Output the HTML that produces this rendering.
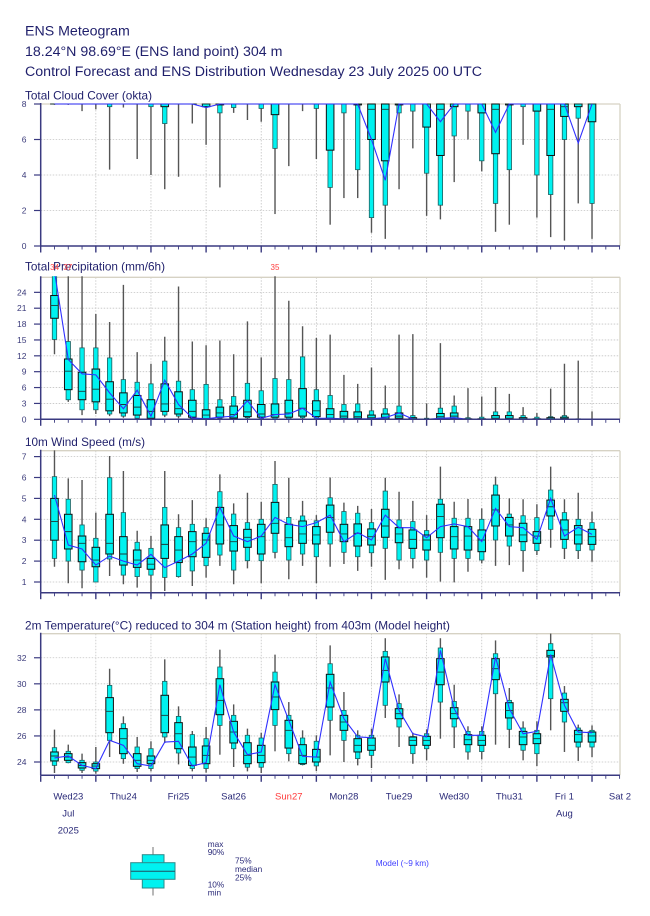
<!DOCTYPE html>
<html>
<head>
<meta charset="utf-8">
<style>
  html,body{margin:0;padding:0;background:#fff;}
  svg{display:block;}
  text{font-family:"Liberation Sans",Arial,sans-serif;}
  .hdr{fill:#1f1f6b;font-size:14.2px;}
  .ptl{fill:#1f1f6b;font-size:11.7px;}
  .yl{fill:#3a3a7a;font-size:8.5px;text-anchor:end;}
  .xl{fill:#2a2a78;font-size:9.5px;text-anchor:middle;}
  .lg{fill:#2a2a78;font-size:8.3px;}
  .red{fill:#ff4040;font-size:8px;text-anchor:middle;}
</style>
</head>
<body>
<svg id="s" width="650" height="916" viewBox="0 0 650 916" xmlns="http://www.w3.org/2000/svg">
  <rect x="0" y="0" width="650" height="916" fill="#fff"/>
  <!-- Header -->
  <text class="hdr" x="25" y="35.7">ENS Meteogram</text>
  <text class="hdr" x="25" y="56">18.24°N 98.69°E (ENS land point) 304 m</text>
  <text class="hdr" x="25" y="76" textLength="457" lengthAdjust="spacingAndGlyphs">Control Forecast and ENS Distribution Wednesday 23 July 2025 00 UTC</text>

  <!-- Panel titles -->
  <text class="ptl" x="25" y="99.5" textLength="127" lengthAdjust="spacingAndGlyphs">Total Cloud Cover (okta)</text>
  <text class="ptl" x="25" y="270.7" textLength="140" lengthAdjust="spacingAndGlyphs">Total Precipitation (mm/6h)</text>
  <text class="ptl" x="25" y="446" textLength="120" lengthAdjust="spacingAndGlyphs">10m Wind Speed (m/s)</text>
  <text class="ptl" x="25" y="629.3" textLength="425" lengthAdjust="spacingAndGlyphs">2m Temperature(°C) reduced to 304 m (Station height) from 403m (Model height)</text>

  <!-- red outlier labels -->
  <text class="red" x="54.6" y="270">34</text>
  <text class="red" x="67.8" y="270">37</text>
  <text class="red" x="275" y="270">35</text>

  <g id="grid"></g>
  <g id="plots"></g>
  <g id="axes"></g>

  <!-- Y tick labels: cloud -->
  <text class="yl" x="26.5" y="249">0</text>
  <text class="yl" x="26.5" y="213.5">2</text>
  <text class="yl" x="26.5" y="178">4</text>
  <text class="yl" x="26.5" y="142.5">6</text>
  <text class="yl" x="26.5" y="107">8</text>
  <!-- precip -->
  <text class="yl" x="26.5" y="422.3">0</text>
  <text class="yl" x="26.5" y="406.4">3</text>
  <text class="yl" x="26.5" y="390.5">6</text>
  <text class="yl" x="26.5" y="374.7">9</text>
  <text class="yl" x="26.5" y="358.8">12</text>
  <text class="yl" x="26.5" y="342.9">15</text>
  <text class="yl" x="26.5" y="327.1">18</text>
  <text class="yl" x="26.5" y="311.2">21</text>
  <text class="yl" x="26.5" y="295.3">24</text>
  <!-- wind -->
  <text class="yl" x="26.5" y="585">1</text>
  <text class="yl" x="26.5" y="564.1">2</text>
  <text class="yl" x="26.5" y="543.2">3</text>
  <text class="yl" x="26.5" y="522.3">4</text>
  <text class="yl" x="26.5" y="501.4">5</text>
  <text class="yl" x="26.5" y="480.5">6</text>
  <text class="yl" x="26.5" y="459.6">7</text>
  <!-- temp -->
  <text class="yl" x="26.5" y="765">24</text>
  <text class="yl" x="26.5" y="738.9">26</text>
  <text class="yl" x="26.5" y="712.9">28</text>
  <text class="yl" x="26.5" y="686.8">30</text>
  <text class="yl" x="26.5" y="660.8">32</text>

  <!-- X labels -->
  <text class="xl" x="68.3" y="799.5">Wed23</text>
  <text class="xl" x="123.4" y="799.5">Thu24</text>
  <text class="xl" x="178.5" y="799.5">Fri25</text>
  <text class="xl" x="233.6" y="799.5">Sat26</text>
  <text class="xl" x="288.8" y="799.5" style="fill:#ff3a3a">Sun27</text>
  <text class="xl" x="343.9" y="799.5">Mon28</text>
  <text class="xl" x="399.0" y="799.5">Tue29</text>
  <text class="xl" x="454.2" y="799.5">Wed30</text>
  <text class="xl" x="509.3" y="799.5">Thu31</text>
  <text class="xl" x="564.4" y="799.5">Fri 1</text>
  <text class="xl" x="620" y="799.5">Sat 2</text>
  <text class="xl" x="68.3" y="816.5">Jul</text>
  <text class="xl" x="68.3" y="833.5">2025</text>
  <text class="xl" x="564.4" y="816.5">Aug</text>

  <!-- Legend -->
  <line x1="153" y1="847" x2="153" y2="895.5" stroke="#888" stroke-width="1.2"/>
  <rect x="142.3" y="854.7" width="21.7" height="33.3" fill="#00f2f0" stroke="#2a8a8a" stroke-width="1"/>
  <rect x="130.7" y="862.7" width="44.3" height="16.6" fill="#00f2f0" stroke="#2a8a8a" stroke-width="1"/>
  <line x1="130.7" y1="871.3" x2="175" y2="871.3" stroke="#1f4f5f" stroke-width="1"/>
  <text class="lg" x="207.7" y="847">max</text>
  <text class="lg" x="207.7" y="855">90%</text>
  <text class="lg" x="235" y="863.7">75%</text>
  <text class="lg" x="235" y="872">median</text>
  <text class="lg" x="235" y="880.3">25%</text>
  <text class="lg" x="207.7" y="887.7">10%</text>
  <text class="lg" x="207.7" y="895.7">min</text>
  <text class="lg" x="375.7" y="866" style="fill:#4040ff">Model (~9 km)</text>
</svg>

<script>
(function(){
var NS="http://www.w3.org/2000/svg";
var X0=40.7, DX=13.783, XR=620;
function px(i){return X0+DX*i;}
function el(tag,attrs,parent){var e=document.createElementNS(NS,tag);for(var k in attrs)e.setAttribute(k,attrs[k]);parent.appendChild(e);return e;}
var svg=document.getElementById('s');
var grid=document.getElementById('grid'), plots=document.getElementById('plots'), axes=document.getElementById('axes');
var defs=el('defs',{},svg);

var cc=[[7.95,8,8,8,8],[7.95,8,8,8,8],[7.6,8,8,8,8],[7.7,8,8,8,8],[4.3,7.85,8,8,8],[7.8,8,8,8,8],[4.9,8,8,8,8],[4.0,7.85,8,8,8],
[3.2,6.9,7.85,8,8],[3.9,8,8,8,8],[6.9,8,8,8,8],[5.7,7.85,7.85,8,7.8],[3.3,7.5,7.95,8,8],[7.5,7.8,8,8,8],[7.1,8,8,8,8],[7.0,7.75,8,8,8],
[1.8,5.5,7.4,8,8],[4.5,8,8,8,8],[7.6,8,8,8,8],[4.9,7.75,8,8,8],[1.2,3.3,5.4,8,8],[2.7,7.5,8,8,8],[2.7,4.3,7.95,8,8],[0.75,1.6,6.0,7.7,6.0],
[0.4,2.3,4.8,7.7,3.7],[3.2,7.5,7.95,8,8],[5.5,7.6,8,8,8],[1.7,4.1,6.7,8,8],[1.5,2.3,5.1,7.7,7.0],[3.6,6.2,7.85,8,8],[6.0,7.6,8,8,8],[4.2,4.8,7.5,8,8],
[0.8,2.4,5.2,7.7,6.4],[1.2,4.3,7.95,8,8],[5.7,7.85,8,8,8],[1.6,4.0,7.6,8,8],[0.5,2.9,5.1,7.7,8],[0.3,6.0,7.3,7.85,8],[2.4,7.2,7.85,8,5.8],[0.4,2.4,7.0,8,8]];
var cloud=cc.map(function(a){return [a[0],a[1],a[2],a[3],8,8,8,a[4]];});

var precip=[[12.3,15.1,19.1,21.5,23.4,28,37,28],[3.3,3.7,5.6,9.1,11.4,14.7,37,11.3],[0.8,1.8,3.7,5.3,8.9,13.5,30,8.6],[1.0,1.8,3.3,5.7,9.5,13.5,19.9,8.4],
[0.6,1.0,1.6,3.8,7.1,11.6,18.4,5.0],[0.3,0.6,1.2,2.8,5.0,7.5,25.4,2.0],[0.1,0.2,0.8,2.3,4.5,7.0,12.7,5.5],[0,0.1,0.2,1.5,3.7,6.7,10.5,0.6],
[0.4,0.8,1.5,2.9,6.7,11.0,15.6,7.4],[0.2,0.6,1.0,2.0,5.2,7.2,25.1,2.8],[0.1,0.2,0.4,1.5,3.6,5.6,14.7,0.25],[0,0.05,0.1,0.8,1.8,6.6,14.0,0.1],
[0,0.2,0.4,1.2,2.3,3.7,14.9,0.4],[0,0.1,0.25,0.9,2.5,4.3,12.3,0.6],[0.1,0.3,0.5,1.4,3.6,6.8,18.5,3.5],[0,0.1,0.4,1.0,2.8,5.4,11.7,0.2],
[0,0.1,0.4,0.9,2.9,7.7,35,0.9],[0,0.1,0.4,1.2,3.6,7.5,22.4,1.0],[0.1,0.3,0.6,2.1,5.8,11.8,17.6,2.1],[0,0.1,0.5,1.6,3.5,5.6,15.4,0.2],
[0,0.05,0.2,0.9,2.0,4.5,16.0,0.2],[0,0.05,0.2,0.6,1.5,2.8,8.4,0.1],[0,0.05,0.2,0.5,1.4,2.9,6.7,0.1],[0,0,0.1,0.3,0.8,1.6,9.8,0.1],
[0,0,0.1,0.4,1.0,2.0,6.4,0.3],[0,0.05,0.2,0.6,1.2,2.5,16.0,1.2],[0,0,0,0.1,0.3,0.7,16.1,0.05],[0,0,0,0,0.05,0.2,3.0,0],
[0,0.05,0.2,0.5,1.1,2.1,14.4,0.2],[0,0.05,0.2,0.6,1.2,2.5,4.5,0.3],[0,0,0,0.05,0.1,0.3,5.9,0],[0,0,0,0.05,0.1,0.4,4.3,0],
[0,0,0.05,0.2,0.7,1.4,6.1,0.05],[0,0,0.05,0.2,0.7,1.4,4.8,0.05],[0,0,0.02,0.1,0.3,0.7,2.3,0],[0,0,0,0.05,0.1,0.4,1.2,0],
[0,0,0,0.1,0.3,0.5,5.8,0],[0,0,0.05,0.15,0.4,0.7,10.5,0.05],[0,0,0,0,0.05,0.1,11.1,0],[0,0,0,0,0,0.05,1.5,0]];

var wind=[[1.73,2.13,3.0,3.9,5.0,6.04,7.3,5.16],[0.94,2.0,2.58,3.41,4.24,4.96,5.96,2.77],[0.7,1.57,1.97,2.85,3.2,3.73,5.88,2.58],[1.0,1.0,1.73,2.05,2.66,3.09,4.32,1.81],
[1.29,2.1,2.34,2.85,4.24,5.99,7.03,2.24],[0.89,1.33,1.81,2.34,3.17,4.32,6.31,2.0],[0.73,1.26,1.70,2.05,2.53,2.9,3.45,1.81],[0.3,1.33,1.61,1.85,2.13,2.61,3.2,2.32],
[0.57,1.22,2.13,2.8,3.73,4.57,6.31,1.69],[1.21,1.26,1.93,2.53,3.17,3.6,4.24,2.0],[0.81,1.53,2.21,2.93,3.41,3.76,4.92,2.34],[1.21,1.78,2.18,3.01,3.33,3.6,4.05,2.85],
[1.77,2.29,2.82,3.73,4.57,5.32,6.15,4.57],[0.89,1.57,2.48,2.93,3.7,4.25,4.76,3.2],[1.65,2.02,2.66,3.14,3.52,3.84,5.27,2.93],[0.94,2.02,2.34,3.17,3.76,4.0,4.84,3.2],
[2.13,2.42,3.33,3.81,4.81,5.67,6.79,4.09],[1.13,2.05,2.69,3.12,3.76,4.09,5.99,3.76],[1.77,2.34,2.85,3.3,3.92,4.16,4.88,3.65],[0.94,2.21,2.82,3.25,3.65,3.93,4.2,3.84],
[1.73,2.82,3.38,4.09,4.68,5.03,6.0,4.2],[1.86,2.42,2.93,3.3,3.76,4.37,4.8,2.93],[1.53,2.21,2.72,3.33,3.78,4.29,4.64,3.36],[1.73,2.4,2.77,3.17,3.54,3.84,4.49,3.01],
[1.1,2.61,3.14,3.68,4.48,5.35,5.99,4.2],[1.61,2.05,2.88,3.3,3.6,3.97,5.32,3.6],[1.65,2.13,2.61,3.04,3.49,3.89,4.88,3.6],[1.21,2.05,2.53,3.01,3.25,3.46,4.2,3.12],
[1.02,2.42,3.12,4.13,4.72,4.96,6.52,3.65],[0.98,2.13,2.58,3.17,3.65,4.05,4.84,3.78],[1.49,2.13,2.53,3.2,3.65,4.05,4.97,3.65],[1.89,2.05,2.45,3.01,3.49,4.0,4.52,2.93],
[1.77,3.01,3.68,4.45,5.16,5.64,6.04,4.52],[1.81,2.72,3.2,3.73,4.09,4.25,5.0,3.65],[1.49,2.5,2.93,3.25,3.81,4.17,4.96,3.6],[2.29,2.5,2.85,3.2,3.41,4.08,4.72,3.04],
[2.64,3.52,4.16,4.6,4.92,5.4,6.52,5.0],[2.1,2.61,3.04,3.49,3.97,4.32,4.96,3.2],[2.1,2.5,2.82,3.25,3.7,4.0,5.27,3.62],[1.97,2.53,2.8,3.17,3.52,3.84,4.37,3.28]];

var temp=[[23.16,23.74,24.08,24.46,24.77,25.1,26.48,24.31],[23.9,23.95,24.13,24.38,24.64,24.82,25.33,24.46],[23.16,23.36,23.54,23.74,23.95,24.13,24.64,23.74],[23.1,23.3,23.49,23.69,23.87,24.0,25.15,23.49],
[24.38,25.66,26.25,27.89,28.94,29.88,31.16,25.66],[23.87,24.26,24.64,25.79,26.56,26.94,27.5,25.28],[23.23,23.5,23.67,24.13,24.64,25.15,25.92,23.87],[23.28,23.5,23.87,24.13,24.46,25.02,25.59,23.69],
[25.46,25.92,26.25,27.58,29.12,30.19,31.88,25.53],[23.82,24.69,25.02,26.17,27.02,27.5,28.27,25.59],[23.28,23.5,23.74,24.38,25.15,26.1,26.38,23.69],[23.18,23.5,23.87,24.51,25.23,25.79,26.69,23.95],
[24.56,26.81,27.63,28.73,30.39,31.29,32.62,29.93],[23.62,25.02,25.46,26.3,27.12,27.58,28.42,26.3],[23.28,23.6,23.87,24.51,25.48,26.05,26.56,24.56],[23.16,23.6,23.95,24.51,25.28,25.84,26.25,24.77],
[24.82,26.81,28.02,28.99,30.14,30.9,32.24,29.93],[24.05,24.64,25.07,26.43,27.2,27.58,28.6,27.2],[23.74,23.8,23.87,24.51,25.33,25.84,26.43,24.43],[23.3,23.7,24.0,24.38,24.97,25.59,26.05,24.38],
[24.51,27.2,28.22,29.68,30.73,31.54,32.95,30.14],[24.0,25.66,26.43,27.07,27.58,27.96,29.37,27.32],[23.74,24.26,24.77,25.28,25.79,26.05,26.43,25.92],[23.54,24.51,24.9,25.28,25.84,26.05,26.56,25.87],
[27.38,28.35,30.14,31.03,32.06,32.49,33.5,31.93],[25.15,26.69,27.32,27.71,28.09,28.48,29.19,27.96],[23.87,24.64,25.28,25.66,25.92,25.95,26.25,26.17],[24.13,25.02,25.28,25.66,25.97,26.17,26.51,25.92],
[25.79,28.6,29.93,30.9,31.93,32.75,33.5,32.57],[25.07,26.69,27.32,27.71,28.17,28.65,29.93,28.09],[24.18,24.77,25.33,25.71,26.1,26.35,26.74,26.05],[24.2,24.8,25.28,25.66,26.05,26.35,26.74,26.05],
[25.33,29.24,30.32,31.16,31.93,32.31,33.33,32.06],[25.07,26.51,27.38,27.96,28.55,28.73,29.68,28.09],[24.13,24.9,25.33,25.92,26.35,26.61,27.12,26.17],[23.69,24.64,25.41,25.79,26.17,26.43,27.12,26.35],
[26.43,28.86,32.06,32.18,32.57,33.08,33.85,32.24],[24.77,27.07,27.89,28.55,28.81,29.29,29.83,28.35],[24.08,25.15,25.53,26.1,26.43,26.61,26.87,26.3],[24.38,25.15,25.53,26.0,26.3,26.43,26.81,26.25]];

var panels=[
 {id:'pc',top:104,bot:246,ct:2.5,cb:0,Y:function(v){return 246-17.75*v;},grid:[2,4,6],ticks:[0,2,4,6,8],data:cloud},
 {id:'pp',top:277.3,bot:419.3,ct:1,cb:0,Y:function(v){return 419.3-5.29*v;},grid:[3,6,9,12,15,18,21,24],ticks:[0,3,6,9,12,15,18,21,24],data:precip},
 {id:'pw',top:450.7,bot:592.7,ct:1,cb:4,Y:function(v){return 602.9-20.9*v;},grid:[1,2,3,4,5,6,7],ticks:[1,2,3,4,5,6,7],data:wind},
 {id:'pt',top:633.7,bot:775.3,ct:1,cb:0,Y:function(v){return 762-(v-24)*13.03;},grid:[24,26,28,30,32],ticks:[24,26,28,30,32],data:temp}
];

var AX='#3a3a80', CY='#00f2f0';
panels.forEach(function(p){
  var cp=el('clipPath',{id:'c'+p.id},defs);
  el('rect',{x:X0,y:p.top-p.ct,width:XR-X0,height:p.bot-p.top+p.ct+p.cb},cp);
  p.grid.forEach(function(v){
    var y=p.Y(v);
    el('line',{x1:X0,y1:y,x2:XR,y2:y,stroke:'#c4c4c4','stroke-width':0.8,'stroke-dasharray':'1.5,1.5'},grid);
  });
  for(var d=1;d<=10;d++){
    var x=X0+d*DX*4;
    el('line',{x1:x,y1:p.top,x2:x,y2:p.bot,stroke:'#c4c4c4','stroke-width':0.8,'stroke-dasharray':'1.5,1.5'},grid);
  }
  el('line',{x1:X0,y1:p.top,x2:XR,y2:p.top,stroke:'#d6d2c4','stroke-width':1.3},grid);
  el('line',{x1:XR,y1:p.top,x2:XR,y2:p.bot,stroke:'#d6d2c4','stroke-width':1.3},grid);
  var g=el('g',{'clip-path':'url(#c'+p.id+')'},plots);
  var pts=[];
  p.data.forEach(function(d,k){
    var i=k+1, x=px(i), Y=p.Y;
    var mn=Y(d[0]),p10=Y(d[1]),p25=Y(d[2]),md=Y(d[3]),p75=Y(d[4]),p90=Y(d[5]),mx=Y(d[6]);
    el('line',{x1:x,y1:mn,x2:x,y2:mx,stroke:'#555','stroke-width':1.4},g);
    el('rect',{x:x-2.2,y:p90,width:4.4,height:Math.max(0.01,p10-p90),fill:CY,stroke:'#1f5f5f','stroke-width':0.8},g);
    el('rect',{x:x-3.8,y:p75,width:7.6,height:Math.max(0.01,p25-p75),fill:CY,stroke:'#111','stroke-width':1},g);
    el('line',{x1:x-3.8,y1:md,x2:x+3.8,y2:md,stroke:'#1a3a3a','stroke-width':0.9},g);
    pts.push(x.toFixed(2)+','+Y(d[7]).toFixed(2));
  });
  el('polyline',{points:pts.join(' '),fill:'none',stroke:'#3030ff','stroke-width':1.1},g);
  el('line',{x1:X0,y1:p.top-1,x2:X0,y2:p.bot,stroke:AX,'stroke-width':1.5},axes);
  el('line',{x1:X0,y1:p.bot,x2:XR,y2:p.bot,stroke:AX,'stroke-width':1.5},axes);
  p.ticks.forEach(function(v){
    var y=p.Y(v);
    el('line',{x1:34,y1:y,x2:X0,y2:y,stroke:AX,'stroke-width':1.2},axes);
  });
  for(var j=0;j<=42;j++){
    var x=px(j), major=(j%4===0);
    el('line',{x1:x,y1:p.bot,x2:x,y2:p.bot+(major?6.5:3.5),stroke:AX,'stroke-width':major?1.4:0.9},axes);
  }
});
})();
</script>
</body>
</html>
